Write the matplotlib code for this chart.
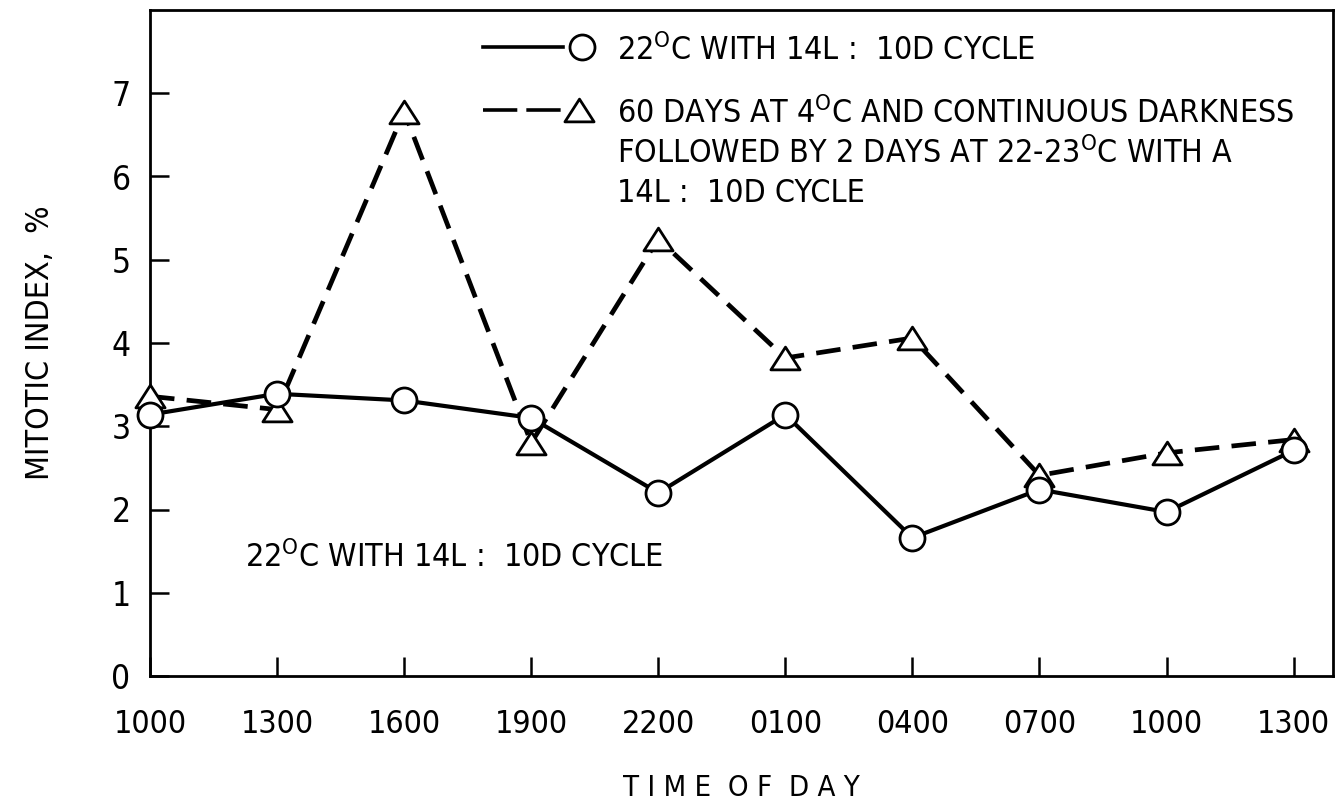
import matplotlib
matplotlib.use("Agg")
import matplotlib.pyplot as plt
from matplotlib import font_manager
from matplotlib.lines import Line2D
from matplotlib.path import Path

# ---- data ----
time_labels = ["1000", "1300", "1600", "1900", "2200", "0100", "0400", "0700", "1000", "1300"]
control_22c = [3.14, 3.39, 3.31, 3.10, 2.20, 3.14, 1.66, 2.24, 1.97, 2.71]
cold_dark = [3.36, 3.20, 6.78, 2.80, 5.25, 3.82, 4.06, 2.41, 2.68, 2.84]
y_ticks = [0, 1, 2, 3, 4, 5, 6, 7]

legend_row1 = r"22$^{\mathrm{O}}$C WITH 14L :  10D CYCLE"
legend_row2 = [r"60 DAYS AT 4$^{\mathrm{O}}$C AND CONTINUOUS DARKNESS",
               r"FOLLOWED BY 2 DAYS AT 22-23$^{\mathrm{O}}$C WITH A",
               r"14L :  10D CYCLE"]
annot_text = r"22$^{\mathrm{O}}$C WITH 14L :  10D CYCLE"

# ---- fonts ----
names = {f.name for f in font_manager.fontManager.ttflist}
if "Liberation Sans Narrow" in names:
    fam = "Liberation Sans Narrow"
    stretch = "normal"
else:
    fam = "DejaVu Sans"
    stretch = "condensed"
plt.rcParams["font.family"] = [fam, "DejaVu Sans"]
plt.rcParams["font.stretch"] = stretch
plt.rcParams["mathtext.fontset"] = "custom"
plt.rcParams["mathtext.rm"] = fam
plt.rcParams["mathtext.it"] = fam
plt.rcParams["mathtext.bf"] = fam

fig = plt.figure(figsize=(13.39, 8.05), dpi=100)
ax = fig.add_axes([150 / 1339, (805 - 676) / 805, (1333 - 150) / 1339, (676 - 10) / 805])

x = list(range(len(time_labels)))
tri = Path([(-1, -0.78), (1, -0.78), (0, 0.78), (-1, -0.78)],
           [Path.MOVETO, Path.LINETO, Path.LINETO, Path.CLOSEPOLY])

ax.plot(x, cold_dark, color="black", lw=3.4, linestyle=(0, (5.2, 2.6)),
        marker=tri, markersize=21, markerfacecolor="white",
        markeredgecolor="black", markeredgewidth=2.0, zorder=3, clip_on=False)
ax.plot(x, control_22c, color="black", lw=3.0, linestyle="-",
        marker="o", markersize=18, markerfacecolor="white",
        markeredgecolor="black", markeredgewidth=2.0, zorder=4, clip_on=False)

ax.set_xlim(0, 9.31)
ax.set_ylim(0, 8.0)
ax.set_xticks(x)
ax.set_xticklabels(time_labels, fontsize=23)
ax.set_yticks(y_ticks)
ax.set_yticklabels([str(v) for v in y_ticks], fontsize=24)
ax.tick_params(axis="x", direction="in", length=14, width=1.8, pad=24)
ax.tick_params(axis="y", direction="in", length=14, width=1.8, pad=14)
for s in ax.spines.values():
    s.set_linewidth(2.0)

ax.set_xlabel("T I M E  O F  D A Y", fontsize=21, labelpad=24)
ax.set_ylabel("MITOTIC INDEX,  %", fontsize=23, labelpad=40)

# ---- manual legend ----
fs_leg = 23
ax.add_line(Line2D([0.2815, 0.349], [0.944, 0.944], transform=ax.transAxes,
                   color="black", lw=2.6))
ax.add_line(Line2D([0.365], [0.944], transform=ax.transAxes, marker="o",
                   markersize=18, markerfacecolor="white", markeredgecolor="black",
                   markeredgewidth=2.0, linestyle="none"))
ax.text(0.395, 0.925, legend_row1, transform=ax.transAxes, fontsize=fs_leg,
        ha="left", va="baseline")

ax.add_line(Line2D([0.2815, 0.347], [0.850, 0.850], transform=ax.transAxes,
                   color="black", lw=2.6, linestyle=(0, (9.5, 2.5))))
ax.add_line(Line2D([0.363], [0.850], transform=ax.transAxes, marker=tri,
                   markersize=21, markerfacecolor="white", markeredgecolor="black",
                   markeredgewidth=2.0, linestyle="none"))
for txt, yb in zip(legend_row2, [0.830, 0.770, 0.712]):
    ax.text(0.395, yb, txt, transform=ax.transAxes, fontsize=fs_leg,
            ha="left", va="baseline")

ax.text(0.75, 1.31, annot_text, fontsize=fs_leg, ha="left", va="baseline")

fig.savefig("out.png", dpi=100)
